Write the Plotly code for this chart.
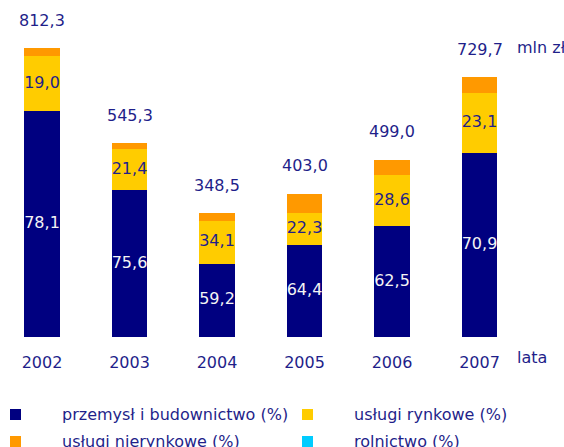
import plotly.graph_objects as go

years = ["2002", "2003", "2004", "2005", "2006", "2007"]
totals = [812.3, 545.3, 348.5, 403.0, 499.0, 729.7]
przemysl = [78.1, 75.6, 59.2, 64.4, 62.5, 70.9]
rynkowe = [19.0, 21.4, 34.1, 22.3, 28.6, 23.1]
nierynkowe = [2.9, 3.0, 6.7, 13.3, 8.9, 6.0]
rolnictwo = [0.0, 0.0, 0.0, 0.0, 0.0, 0.0]

series_names = ["przemysł i budownictwo (%)", "usługi rynkowe (%)",
                "usługi nierynkowe (%)", "rolnictwo (%)"]
series_values = [przemysl, rynkowe, nierynkowe, rolnictwo]
series_colors = ["#000080", "#FFCC00", "#FF9900", "#00CCFF"]

NAVY = "#1F1F8A"
FONT = "Verdana, DejaVu Sans, sans-serif"
W, H = 564, 447

def px(x):
    return x / W

def py(y):
    return 1 - y / H

def fmt(v):
    return f"{v:.1f}".replace(".", ",")

xs = list(range(len(years)))
fig = go.Figure()
for name, pct, color in zip(series_names, series_values, series_colors):
    fig.add_trace(go.Bar(
        x=xs, y=[t * p / 100 for t, p in zip(totals, pct)],
        name=name, marker=dict(color=color, line=dict(width=0)),
        width=0.41, hoverinfo="skip", showlegend=False,
    ))

# labels inside dark segment
fig.add_trace(go.Scatter(
    x=xs, y=[t * p / 200 for t, p in zip(totals, przemysl)],
    text=[fmt(v) for v in przemysl], mode="text",
    textfont=dict(color="#F4F4F4", size=16, family=FONT),
    showlegend=False, hoverinfo="skip",
))
# labels inside yellow segment
fig.add_trace(go.Scatter(
    x=xs, y=[t * (a + b / 2) / 100 for t, a, b in zip(totals, przemysl, rynkowe)],
    text=[fmt(v) for v in rynkowe], mode="text",
    textfont=dict(color=NAVY, size=16, family=FONT),
    showlegend=False, hoverinfo="skip",
))

for i, t in enumerate(totals):
    fig.add_annotation(x=i, y=t, text=fmt(t), showarrow=False, yshift=28,
                       font=dict(color=NAVY, size=16, family=FONT))

fig.add_annotation(x=px(515), xref="paper", y=py(48), yref="paper",
                   xanchor="left", yanchor="middle", text="mln zł", showarrow=False,
                   font=dict(color=NAVY, size=16, family=FONT))
fig.add_annotation(x=px(515), xref="paper", y=py(357), yref="paper",
                   xanchor="left", yanchor="middle", text="lata", showarrow=False,
                   font=dict(color=NAVY, size=16, family=FONT))

# legend (2 columns, 2 rows; second row cut by the picture edge as in the original)
leg_pos = [(10, 409), (302, 409), (10, 436), (302, 436)]
for (lx, ly), name, color in zip(leg_pos, series_names, series_colors):
    fig.add_shape(type="rect", xref="paper", yref="paper",
                  x0=px(lx), x1=px(lx + 11), y0=py(ly), y1=py(ly + 11),
                  fillcolor=color, line=dict(width=0))
    fig.add_annotation(x=px(lx + 50), xref="paper", y=py(ly + 5.5), yref="paper",
                       xanchor="left", yanchor="middle", text=name, showarrow=False,
                       font=dict(color=NAVY, size=16, family=FONT))

bar_bottom = 337
fig.update_layout(
    width=W, height=H,
    margin=dict(l=0, r=0, t=0, b=0, autoexpand=False),
    paper_bgcolor="white", plot_bgcolor="white",
    barmode="stack", bargap=0,
    font=dict(family=FONT, color=NAVY, size=16),
    showlegend=False,
    xaxis=dict(range=[-42 / 87.5, -42 / 87.5 + W / 87.5],
               tickvals=xs, ticktext=years,
               showgrid=False, zeroline=False, showline=False, ticks="",
               ticklabelstandoff=14,
               tickfont=dict(size=16, color=NAVY, family=FONT)),
    yaxis=dict(range=[0, bar_bottom / 0.3557], visible=False,
               domain=[1 - bar_bottom / H, 1]),
)

fig.write_html("out.html",
               config={"displayModeBar": False, "staticPlot": True},
               post_script="document.body.style.margin='0';"
                           "document.body.style.overflow='hidden';")
